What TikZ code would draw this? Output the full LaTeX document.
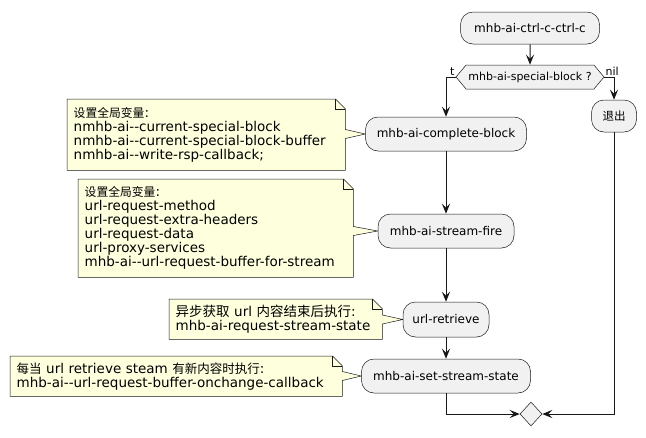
\documentclass[tikz,border=0pt]{standalone}
\usepackage{fontspec}
\setmainfont{DejaVu Sans}[Ligatures=TeXOff]
\newfontfamily\cjkfont{Noto Sans CJK SC}
\usetikzlibrary{arrows.meta,shapes.geometric,shapes.symbols,calc,backgrounds}
\definecolor{boxfill}{HTML}{F1F1F1}
\definecolor{linec}{HTML}{181818}
\definecolor{notefill}{HTML}{FEFFDD}
\newcommand\zh[2][12.5]{{\cjkfont\fontsize{#1}{14}\selectfont #2}}
\newcommand\notepath[2]{%
  \coordinate (#1-a) at ($(#2.west)+(0,-4.5)$);
  \coordinate (#1-b) at ($(#2.west)+(0,4.5)$);
  \path[noteline] (#1.north west) -- ($(#1.north east)+(-10,0)$) -- ($(#1.north east)+(0,10)$)
     -- (#1-a -| #1.east) -- (#2.west) -- (#1-b -| #1.east) -- (#1.south east) -- (#1.south west) -- cycle;
  \draw[draw=linec, line width=0.5pt] ($(#1.north east)+(-10,0)$) -- ($(#1.north east)+(-10,10)$) -- ($(#1.north east)+(0,10)$);
}
\tikzset{
  act/.style={rectangle, rounded corners=12.5pt, draw=linec, line width=0.5pt, fill=boxfill,
    inner sep=0pt, font=\fontsize{12}{14}\selectfont, text=black},
  notebox/.style={inner xsep=6.5pt, inner ysep=0pt, anchor=north west, align=left,
    font=\fontsize{13.5}{14}\selectfont},
  noteline/.style={draw=linec, line width=0.5pt, fill=notefill},
  flow/.style={draw=linec, line width=1pt, -{Stealth[length=10pt,width=8pt,inset=4pt]}},
  lbl/.style={font=\fontsize{11}{13}\selectfont, inner sep=1pt},
}
\begin{document}
\begin{tikzpicture}[x=1pt,y=-1pt]
\useasboundingbox (0,0) rectangle (646,437);
% activity nodes
\node[act, minimum width=139pt, minimum height=32pt] (start) at (530,28) {mhb-ai-ctrl-c-ctrl-c};
\node[signal, signal to=west and east, signal pointer angle=100, draw=linec, line width=0.5pt,
  fill=boxfill, minimum width=148pt, minimum height=24pt, inner sep=0pt,
  font=\fontsize{11}{13}\selectfont] (dec) at (530,77) {mhb-ai-special-block ?};
\node[act, minimum width=161pt, minimum height=34pt] (cb) at (446,134) {mhb-ai-complete-block};
\node[act, minimum width=45pt, minimum height=32pt] (quit) at (614,116) {\zh[11.5]{退出}};
\node[act, minimum width=136pt, minimum height=34pt] (fire) at (446,231) {mhb-ai-stream-fire};
\node[act, minimum width=86pt, minimum height=35pt] (ret) at (446,319.5) {url-retrieve};
\node[act, minimum width=169pt, minimum height=34pt] (sss) at (446,376) {mhb-ai-set-stream-state};
\node[diamond, draw=linec, line width=0.5pt, fill=boxfill, minimum width=22pt, minimum height=24pt,
  inner sep=0pt] (merge) at (531,414) {};
% labels
\node[lbl, anchor=south east] (tlab) at (dec.west) {t};
\node[lbl, anchor=south west] (nillab) at (dec.east) {nil};
% connectors
\draw[flow] (start) -- (dec);
\draw[flow] (dec.west) -| (cb.north);
\draw[flow] (dec.east) -| (quit.north);
\draw[flow] (cb) -- (fire);
\draw[flow] (fire) -- (ret);
\draw[flow] (ret) -- (sss);
\draw[flow] (sss.south) |- (merge.west);
\draw[flow] (quit.south) |- (merge.east);
% notes
\node[notebox, text width=265pt, minimum height=71pt] (n1) at (67,99)
  {\zh[11.8]{设置全局变量}:\\nmhb-ai--current-special-block\\nmhb-ai--current-special-block-buffer\\nmhb-ai--write-rsp-callback;};
\node[notebox, text width=262pt, minimum height=98pt] (n2) at (78,179)
  {\zh[11.8]{设置全局变量}:\\url-request-method\\url-request-extra-headers\\url-request-data\\url-proxy-services\\mhb-ai--url-request-buffer-for-stream};
\node[notebox, text width=200pt, minimum height=40pt] (n3) at (169,299)
  {\zh[13.5]{异步获取} url \zh[13.5]{内容结束后执行}:\\mhb-ai-request-stream-state};
\node[notebox, text width=319pt, minimum height=40pt] (n4) at (10,356)
  {\zh{每当} url retrieve steam \zh{有新内容时执行}:\\mhb-ai--url-request-buffer-onchange-callback};
\begin{scope}[on background layer]
  \fill[white] (0,0) rectangle (646,437);
  \notepath{n1}{cb}
  \notepath{n2}{fire}
  \notepath{n3}{ret}
  \notepath{n4}{sss}
\end{scope}
\end{tikzpicture}
\end{document}
